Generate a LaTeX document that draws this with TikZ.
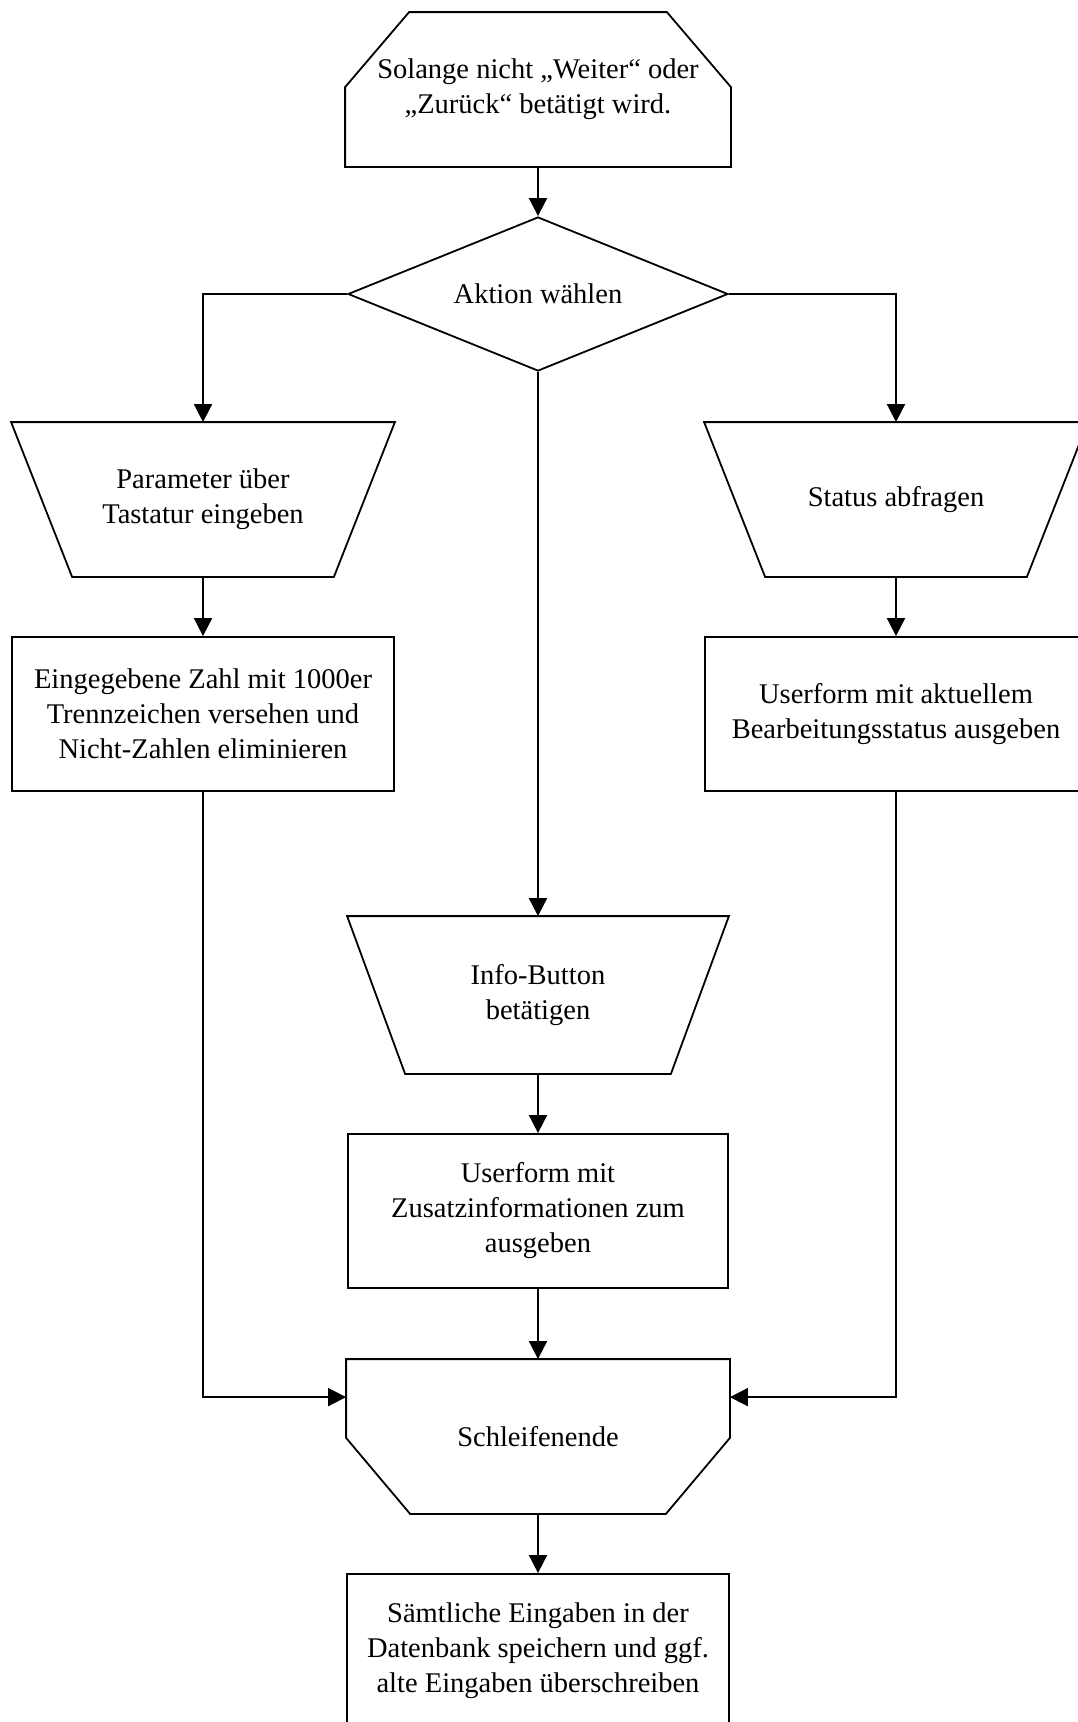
\documentclass[tikz,border=0pt]{standalone}
\usepackage{fontspec}
\setmainfont{Liberation Serif}
\usepackage{tikz}
\usetikzlibrary{arrows.meta}
\usetikzlibrary{positioning}
\usetikzlibrary{shapes}
\tikzstyle{block}=[draw,rectangle,minimum width=382pt,minimum height=154pt,inner sep=0pt,align=center]
\tikzstyle{loopbox}=[rectangle,minimum width=384pt,minimum height=153pt,inner sep=0pt,align=center]
\tikzstyle{manual}=[rectangle,minimum width=382pt,minimum height=153pt,inner sep=0pt,align=center]
\tikzstyle{decide}=[draw,diamond,aspect=2.5,minimum width=380pt,minimum height=154pt,inner sep=0pt]
\tikzstyle{flow}=[->,>={Triangle[length=18pt,width=18pt]}]

\begin{document}
\begin{tikzpicture}[x=1pt,y=-1pt,line width=1.8pt,font=\fontsize{28.5}{35}\selectfont]
\useasboundingbox (0,0) rectangle (1078,1722);

\node [loopbox] (start) at (538,89.5) {Solange nicht „Weiter“ oder\\„Zurück“ betätigt wird.};
\node [decide] (decision) at (538,294) {Aktion wählen};
\node [manual] (param) at (203,499.5) {Parameter über\\Tastatur eingeben};
\node [manual] (status) at (896,499.5) {Status abfragen};
\node [block] (sep) at (203,714) {Eingegebene Zahl mit 1000er\\Trennzeichen versehen und\\Nicht-Zahlen eliminieren};
\node [block] (userstat) at (896,714) {Userform mit aktuellem\\Bearbeitungsstatus ausgeben};
\node [manual,minimum width=380pt,minimum height=156pt] (info) at (538,995) {Info-Button\\betätigen};
\node [block,minimum width=380pt] (userinfo) at (538,1211) {Userform mit\\Zusatzinformationen zum\\ausgeben};
\node [loopbox,minimum width=382pt] (loopend) at (538,1436.5) {Schleifenende};
\node [block] (final) at (538,1651) {Sämtliche Eingaben in der\\Datenbank speichern und ggf.\\alte Eingaben überschreiben};

% loop limits
\draw (start.south west) -- ([yshift=-75pt]start.north west) -- ([xshift=64pt]start.north west)
  -- ([xshift=-64pt]start.north east) -- ([yshift=-75pt]start.north east) -- (start.south east) -- cycle;
\draw (loopend.north west) -- (loopend.north east) -- ([yshift=76pt]loopend.south east)
  -- ([xshift=-64pt]loopend.south east) -- ([xshift=64pt]loopend.south west) -- ([yshift=76pt]loopend.south west) -- cycle;
% manual input shapes
\foreach \n/\d in {param/61,status/61,info/58}
  \draw (\n.north west) -- (\n.north east) -- ([xshift=-\d pt]\n.south east) -- ([xshift=\d pt]\n.south west) -- cycle;

\coordinate (inL) at ([yshift=-38pt]loopend.north west);
\coordinate (inR) at ([yshift=-38pt]loopend.north east);

\draw[flow] (start.south) -- (decision.north);
\draw[flow] (decision.west) -| (param.north);
\draw[flow] (decision.east) -| (status.north);
\draw[flow] (decision.south) -- (info.north);
\draw[flow] (param.south) -- (sep.north);
\draw[flow] (status.south) -- (userstat.north);
\draw[flow] (info.south) -- (userinfo.north);
\draw[flow] (userinfo.south) -- (loopend.north);
\draw[flow] (sep.south) |- (inL);
\draw[flow] (userstat.south) |- (inR);
\draw[flow] (loopend.south) -- (final.north);
\end{tikzpicture}
\end{document}
